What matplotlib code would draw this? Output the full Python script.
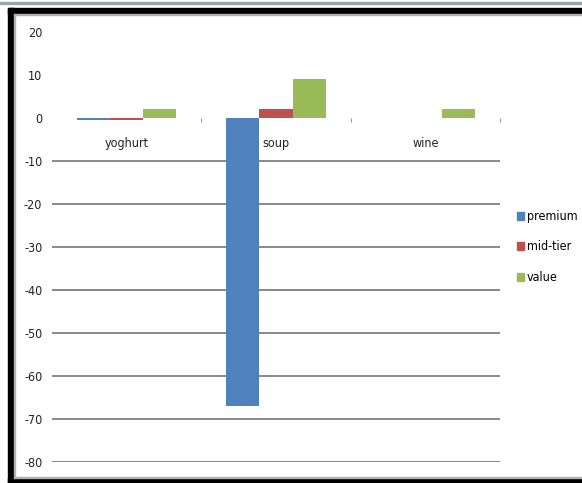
import matplotlib
matplotlib.use("Agg")
import matplotlib.pyplot as plt
from matplotlib.patches import Rectangle
import numpy as np

categories = ["yoghurt", "soup", "wine"]
series_names = ["premium", "mid-tier", "value"]
premium = [-0.5, -67, 0]
mid_tier = [-0.5, 2, 0]
value = [2, 9, 2]
y_ticks = [20, 10, 0, -10, -20, -30, -40, -50, -60, -70, -80]

colors = ["#4F81BD", "#C0504D", "#9BBB59"]
plt.rcParams["font.family"] = ["DejaVu Sans"]
plt.rcParams["font.stretch"] = "condensed"
FS = 9

W, H = 582, 483
fig = plt.figure(figsize=(W / 100, H / 100), dpi=100)

# frame around chart
def px_rect(x0, y0, x1, y1, color):
    fig.patches.append(Rectangle((x0 / W, 1 - y1 / H), (x1 - x0) / W, (y1 - y0) / H,
                                 transform=fig.transFigure, color=color, zorder=0))

px_rect(0, 2, 582, 3.5, "#9aa4ad")
px_rect(8, 8, 582, 14, "black")
px_rect(8, 8, 14, 483, "black")
px_rect(8, 478, 582, 483, "black")
px_rect(14, 14, 582, 15, "#b0b0b0")
px_rect(14, 14, 15, 478, "#b0b0b0")
px_rect(14, 477, 582, 478, "#b0b0b0")

ax = fig.add_axes([52 / W, (H - 462) / H, (500 - 52) / W, 430 / H])
ax.set_xlim(-0.5, 2.5)
ax.set_ylim(-80, 20)

x = np.arange(len(categories))
w = 0.222
for i, (vals, name) in enumerate(zip([premium, mid_tier, value], series_names)):
    ax.bar(x + (i - 1) * w, vals, width=w, color=colors[i], label=name, zorder=3)

for t in y_ticks:
    if t < 0:
        ax.axhline(t, color="#7f7f7f", lw=1.3, zorder=1)

ax.set_yticks(y_ticks)
ax.set_yticklabels([str(t) for t in y_ticks], fontsize=FS, color="#222222")
ax.tick_params(axis="y", length=0, pad=7)

for s in ["top", "right", "left"]:
    ax.spines[s].set_visible(False)
ax.spines["bottom"].set_position(("data", 0))
ax.spines["bottom"].set_color("none")
ax.set_xticks([0.5, 1.5, 2.5])
ax.set_xticklabels([])
ax.tick_params(axis="x", length=3, color="#999999", direction="out")

for xi, c in zip(x, categories):
    ax.annotate(c, (xi, 0), xytext=(0, -14), textcoords="offset points",
                ha="center", va="top", fontsize=FS, color="#222222")

handles = [Rectangle((0, 0), 1, 1, color=c) for c in colors]
fig.legend(handles, series_names, loc="upper left", bbox_to_anchor=(517 / W, 1 - 210 / H),
           frameon=False, handlelength=0.55, handleheight=0.6, handletextpad=0.25,
           labelspacing=1.4, fontsize=FS, borderaxespad=0, borderpad=0)

fig.savefig("out.png", dpi=100)
